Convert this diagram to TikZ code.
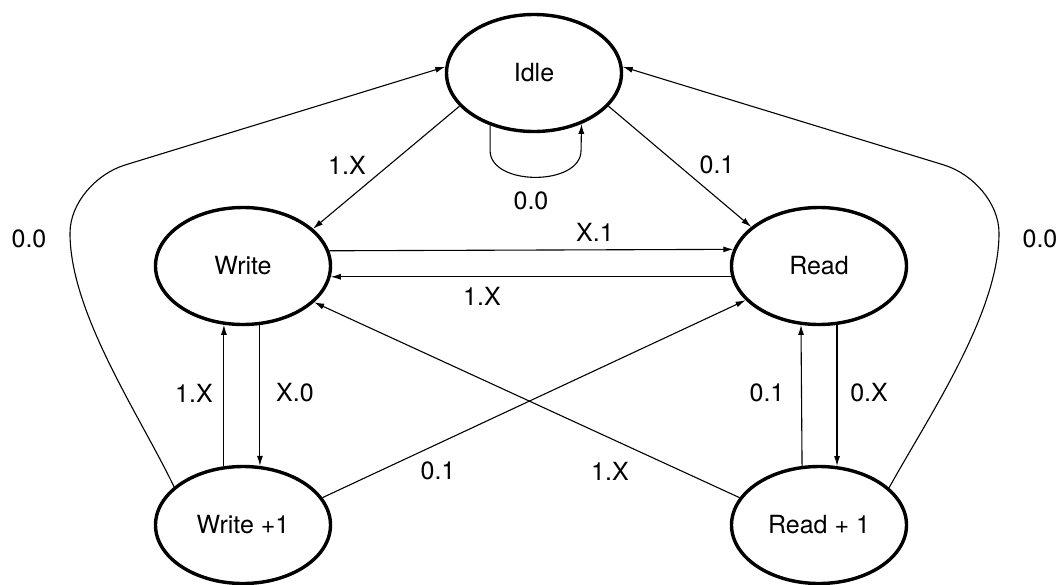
\documentclass[tikz,border=0pt]{standalone}
\usepackage{fontspec}
\setmainfont{TeX Gyre Heros}
\usetikzlibrary{shapes.geometric,arrows.meta}
\begin{document}
\begin{tikzpicture}[x=1pt,y=-1pt,
  state/.style={ellipse,draw,line width=3.4pt,minimum width=175pt,minimum height=117pt,
    inner sep=0pt,font=\fontsize{25}{30}\selectfont},
  edge/.style={line width=1.1pt,-{Latex[length=10pt,width=6pt]}},
  lbl/.style={font=\fontsize{25}{30}\selectfont,inner sep=0pt}]
\useasboundingbox (0,0) rectangle (1062,584);
\clip (0,0) rectangle (1062,584);

% states
\node[state] (idle) at (534,73) {Idle};
\node[state] (write) at (243,266) {Write};
\node[state] (read) at (819,266) {Read};
\node[state] (wp1) at (243,525) {Write +1};
\node[state] (rp1) at (819,525) {Read + 1};

% bend points of the two long return paths
\coordinate (lside) at (70,233);
\coordinate (lcorner) at (125,165);
\coordinate (rside) at (999,233);
\coordinate (rcorner) at (944,165);

% transitions out of Idle
\draw[edge] (idle.204) -- (write.28.4);
\draw[edge] (idle.336) -- (read.150);
\draw[edge] (idle.-130.2) |- ++(0,25) .. controls +(0,36) and +(0,36) .. ++(91,0)
  -- (idle.-47.3);

% Write <-> Read
\draw[edge] (write.10.6) -- (read.169.4);
\draw[edge] (read.187.2) -- (write.-7.2);

% Write <-> Write +1, Read <-> Read + 1
\draw[edge] (write.-74.8) -- (wp1.74.8);
\draw[edge] (wp1.108) -- (write.252);
\draw[edge] (read.287) -- (rp1.73);
\draw[edge] (rp1.106.1) -- (read.253.9);

% crossing diagonals
\draw[edge] (wp1.19.3) -- (read.205.7);
\draw[edge] (rp1.161.6) -- (write.333.4);

% long return paths to Idle
\draw[edge] (wp1.151.5) .. controls (139,414) and (70,313) .. (lside)
  .. controls (70,203) and (96,174) .. (lcorner) -- (idle.176);
\draw[edge] (rp1.28.5) .. controls (930,414) and (999,313) .. (rside)
  .. controls (999,203) and (973,174) .. (rcorner) -- (idle.4);

% labels
\node[lbl] at (347,165) {1.X};
\node[lbl] at (717,165) {0.1};
\node[lbl] at (531,201) {0.0};
\node[lbl] at (595,232) {X.1};
\node[lbl] at (482,296) {1.X};
\node[lbl] at (194,393) {1.X};
\node[lbl] at (295,393) {X.0};
\node[lbl] at (767,393) {0.1};
\node[lbl] at (869,393) {0.X};
\node[lbl] at (438,471) {0.1};
\node[lbl] at (610,471) {1.X};
\node[lbl] at (29,239) {0.0};
\node[lbl] at (1040,239) {0.0};
\end{tikzpicture}
\end{document}
